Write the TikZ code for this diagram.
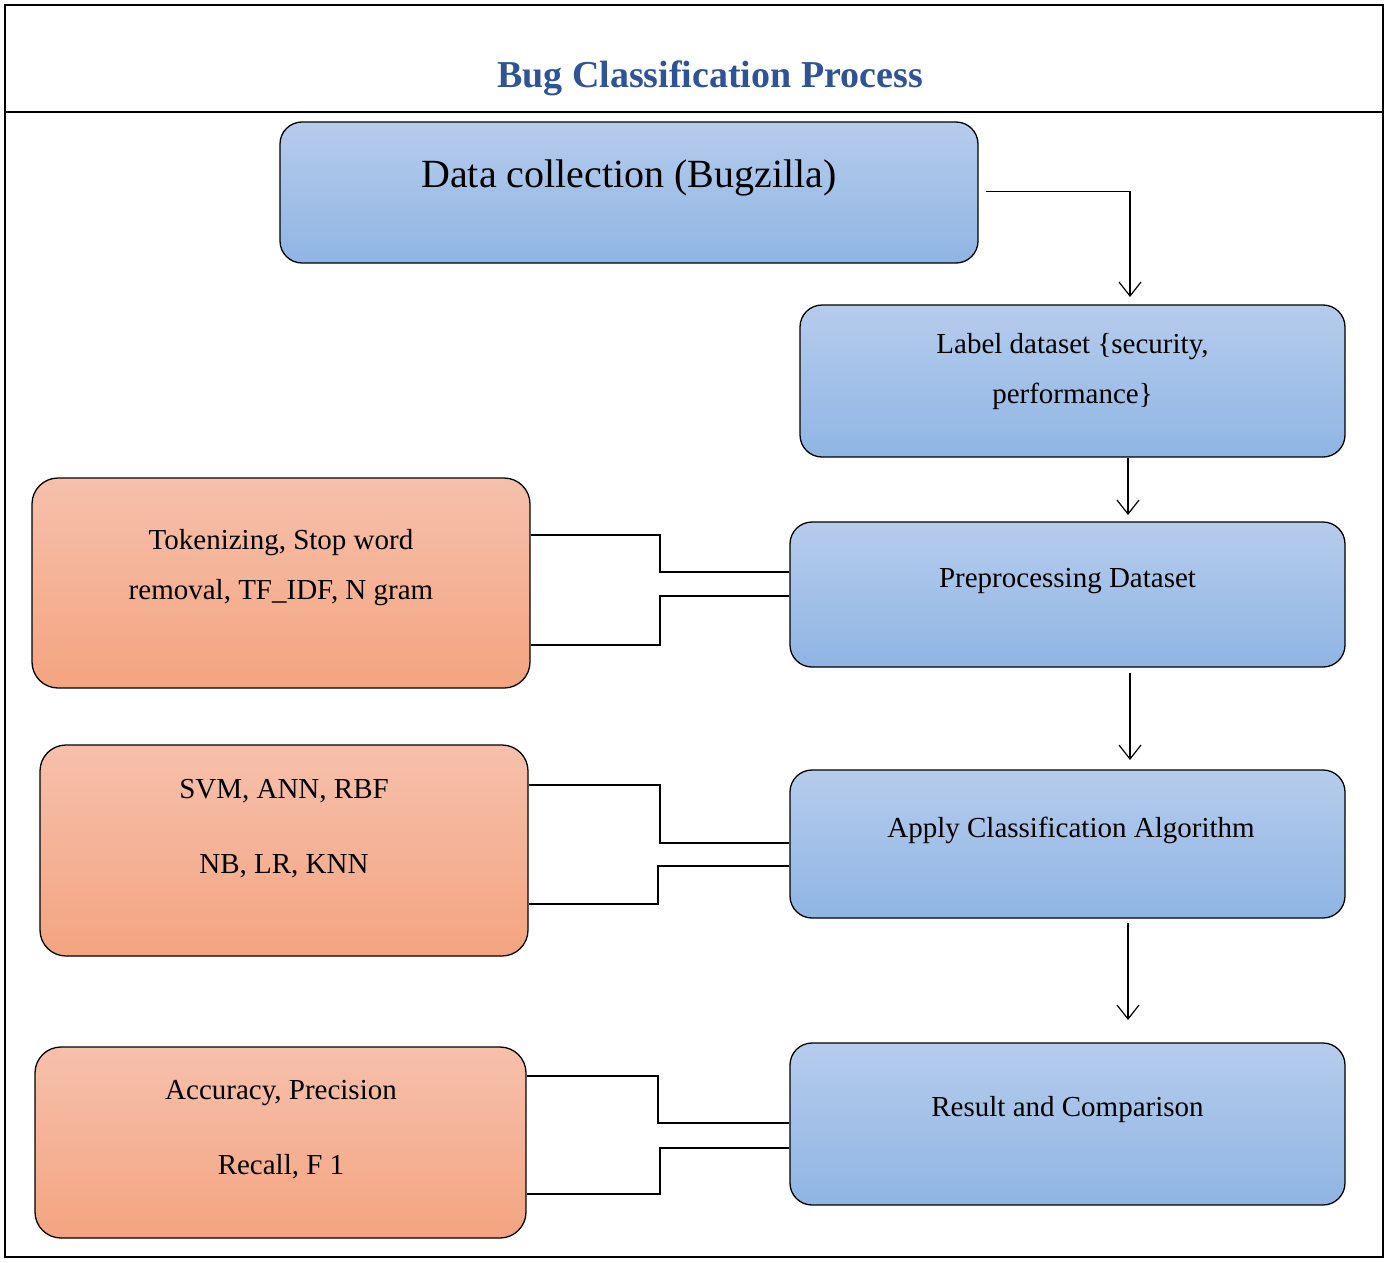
\documentclass[tikz,border=0pt]{standalone}
\usepackage{fontspec}
\setmainfont{Liberation Serif}
\usetikzlibrary{arrows.meta,calc}
\definecolor{btop}{RGB}{182,204,236}
\definecolor{bbot}{RGB}{143,181,228}
\definecolor{otop}{RGB}{246,192,172}
\definecolor{obot}{RGB}{244,164,128}
\definecolor{tblue}{RGB}{46,84,150}
\begin{document}
\begin{tikzpicture}[x=1pt,y=-1pt,
 bbox/.style={draw=black,line width=1.3pt,rounded corners=22pt,top color=btop,bottom color=bbot},
 obox/.style={draw=black,line width=1.3pt,rounded corners=26pt,top color=otop,bottom color=obot},
 txt/.style={font=\fontsize{29}{50}\selectfont,align=center},
 ar/.style={-{Straight Barb[length=14pt,width=22pt]},line width=1.2pt},
 ln/.style={line width=1.2pt}]
\useasboundingbox (0,0) rectangle (1389,1263);
\draw[line width=2.5pt] (5,5) rectangle (1383,1257);
\draw[line width=2.5pt] (5,112) -- (1383,112);
\node[font=\fontsize{38}{40}\selectfont\bfseries,text=tblue] (title) at (710,78) {Bug Classification Process};
% blue boxes
\node[bbox,minimum width=698pt,minimum height=141pt] (dc) at (629,192.5) {};
\node[font=\fontsize{40}{44}\selectfont] (dct) at (629,178) {Data collection (Bugzilla)};
\node[bbox,minimum width=545pt,minimum height=152pt] (lab) at (1072.5,381) {};
\node[txt] (labt) at (1072.5,372) {Label dataset \{security,\\performance\}};
\node[bbox,minimum width=555pt,minimum height=145pt] (pre) at (1067.5,594.5) {};
\node[txt] (pret) at (1067.5,581) {Preprocessing Dataset};
\node[bbox,minimum width=555pt,minimum height=148pt] (app) at (1067.5,844) {};
\node[txt] (appt) at (1071,830) {Apply Classification Algorithm};
\node[bbox,minimum width=555pt,minimum height=162pt] (res) at (1067.5,1124) {};
\node[txt] (rest) at (1067.5,1110) {Result and Comparison};
% orange boxes
\node[obox,minimum width=498pt,minimum height=210pt] (o1) at (281,583) {};
\node[txt] (o1t) at (281,568) {Tokenizing, Stop word\\removal, TF\_IDF, N gram};
\node[obox,minimum width=488pt,minimum height=211pt] (o2) at (284,850.5) {};
\node[txt,font=\fontsize{29}{75}\selectfont] (o2t) at (284,829) {SVM, ANN, RBF\\NB, LR, KNN};
\node[obox,minimum width=491pt,minimum height=191pt] (o3) at (280.5,1142.5) {};
\node[txt,font=\fontsize{29}{75}\selectfont] (o3t) at (281,1130) {Accuracy, Precision\\Recall, F 1};
% arrows
\draw[ar] ($(dc.east)+(7,-1)$) -| (1130,297);
\draw[ar] (lab.south -| 1128,0) -- (1128,515);
\draw[ar] ($(pre.south -| 1130,0)+(0,5)$) -- (1130,760);
\draw[ar] ($(app.south -| 1128,0)+(0,4)$) -- (1128,1020);
% brackets
\draw[ln] (o1.east |- 0,535) -- (660,535) -- (660,572) -- (pre.west |- 0,572);
\draw[ln] (pre.west |- 0,596) -- (660,596) -- (660,645) -- (o1.east |- 0,645);
\draw[ln] (o2.east |- 0,785) -- (660,785) -- (660,843) -- (app.west |- 0,843);
\draw[ln] (app.west |- 0,866) -- (658,866) -- (658,904) -- (o2.east |- 0,904);
\draw[ln] (o3.east |- 0,1076) -- (658,1076) -- (658,1123) -- (res.west |- 0,1123);
\draw[ln] (res.west |- 0,1148) -- (660,1148) -- (660,1194) -- (o3.east |- 0,1194);
\end{tikzpicture}
\end{document}
